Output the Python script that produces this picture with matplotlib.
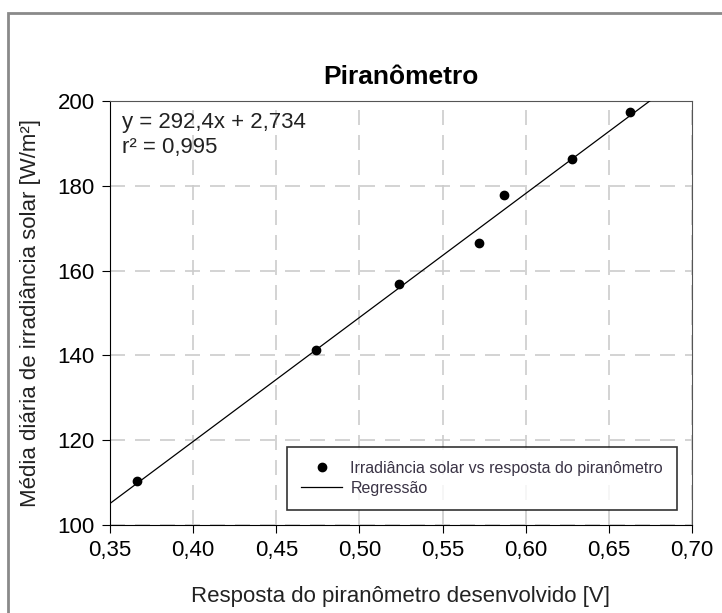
import numpy as np
import matplotlib.pyplot as plt
from matplotlib.patches import Rectangle
from matplotlib.ticker import FuncFormatter

plt.rcParams['font.family'] = ['Liberation Sans', 'DejaVu Sans']

# data
tensao = [0.366, 0.474, 0.524, 0.572, 0.587, 0.628, 0.663]
irradiancia = [110.4, 141.2, 156.8, 166.5, 177.8, 186.3, 197.3]
coef_a = 292.4
coef_b = 2.734
r2 = 0.995
xticks = [0.35, 0.40, 0.45, 0.50, 0.55, 0.60, 0.65, 0.70]
yticks = [100, 120, 140, 160, 180, 200]

fig = plt.figure(figsize=(7.22, 6.13), dpi=100)
ax = fig.add_axes([0.1524, 0.1436, 0.806, 0.6917])

# outer chart border
fig.patches.append(Rectangle((8/722, -0.1), 1.2, 1 - 13/613 + 0.1,
                             transform=fig.transFigure, fill=False,
                             edgecolor='#8a8a8a', linewidth=2))

# regression line, clipped at top of axis
x_max = (200 - coef_b) / coef_a
xr = np.array([0.35, x_max])
ax.plot(xr, coef_a*xr + coef_b, color='black', linewidth=0.9, label='Regressão', zorder=3)
ax.plot(tensao, irradiancia, 'o', color='black', markersize=6,
        label='Irradiância solar vs resposta do piranômetro', zorder=4)

ax.set_xlim(0.35, 0.70)
ax.set_ylim(100, 200)
ax.set_xticks(xticks)
ax.set_yticks(yticks)
ax.xaxis.set_major_formatter(FuncFormatter(lambda v, p: f'{v:.2f}'.replace('.', ',')))
ax.grid(True, color='#cccccc', linestyle=(0, (9, 6)), linewidth=1.2)
ax.set_axisbelow(True)
ax.tick_params(direction='out', length=6, labelsize=16, colors='black', pad=5)
for s in ['top', 'right']:
    ax.spines[s].set_color('#555555')

ax.set_title('Piranômetro', fontsize=19, fontweight='bold', pad=12)
ax.set_xlabel('Resposta do piranômetro desenvolvido [V]', fontsize=16, color='#222', labelpad=18)
ax.set_ylabel('Média diária de irradiância solar [W/m²]', fontsize=16, color='#222', labelpad=12)

ax.text(0.02, 0.975, f'y = {coef_a:.1f}x + {coef_b:.3f}'.replace('.', ',') + f'\nr² = {r2:.3f}'.replace('.', ','),
        transform=ax.transAxes, fontsize=16, va='top', ha='left', color='#222', linespacing=1.25)

handles, labels = ax.get_legend_handles_labels()
leg = ax.legend(handles[::-1], labels[::-1], loc='lower right', bbox_to_anchor=(0.975, 0.035),
                fontsize=11.5, frameon=True, fancybox=False, handlelength=2.6,
                handletextpad=0.5, borderaxespad=0, borderpad=0.9, labelspacing=0.3,
                labelcolor='#3a3345')
leg.get_frame().set_edgecolor('black')
leg.get_frame().set_linewidth(1.2)

fig.savefig('out.png', dpi=100)
